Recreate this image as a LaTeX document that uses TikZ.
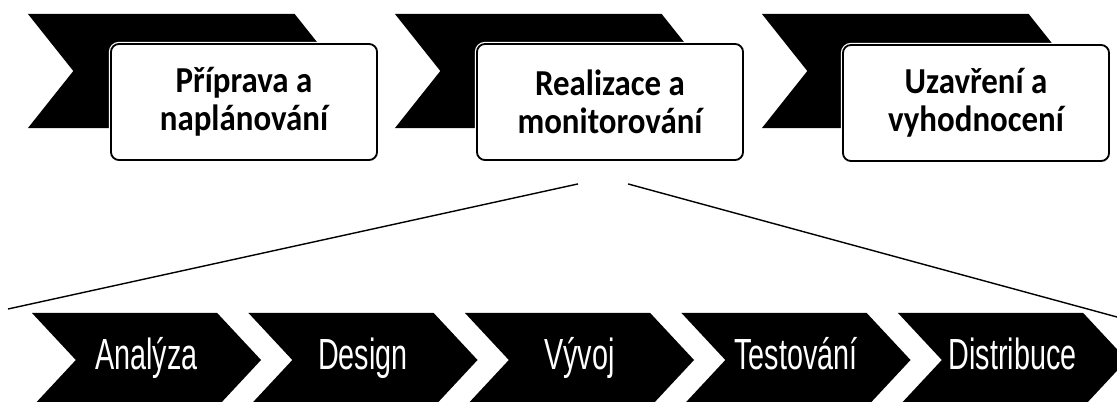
\documentclass[tikz,border=0pt]{standalone}
\usepackage{fontspec}
\usetikzlibrary{shapes.symbols,calc}
\newfontfamily\stagefont[FakeStretch=0.9]{Carlito}
\newfontfamily\taskfont[FakeStretch=0.66]{Liberation Sans}

\tikzset{
  stagearrow/.style={signal, signal from=west, signal to=east,
    signal pointer angle=103, fill=black, inner sep=0pt,
    minimum width=7.8cm, minimum height=2.85cm},
  stagebox/.style={draw, line width=1.3pt, fill=white, rounded corners=0.2cm,
    preaction={draw=white, line width=3pt},
    minimum width=6.65cm, minimum height=2.9cm, align=center,
    font=\stagefont\bfseries\fontsize{26}{27}\selectfont},
  taskarrow/.style={signal, signal from=west, signal to=east,
    signal pointer angle=94, fill=black, inner sep=0pt, text=white,
    text height=21pt, text depth=6.8pt,
    minimum width=5.725cm, minimum height=2.35cm,
    font=\taskfont\fontsize{31}{33}\selectfont},
  fan/.style={line width=1pt}
}

\begin{document}
\begin{tikzpicture}[x=0.025cm,y=-0.025cm]
      \clip (0,0) rectangle (1117,401);

      % top row
      \begin{scope}
        \node[stagearrow] (prepA) at (184,71) {};
        \node[stagebox] (prep) at (244,102) {Příprava a\\naplánování};
      \end{scope}

      \begin{scope}[shift={(367,0)}]
        \node[stagearrow] (realA) at (184,71) {};
        \node[stagebox] (real) at (243,102) {Realizace a\\monitorování};
      \end{scope}

      \begin{scope}[shift={(734,0)}]
        \node[stagearrow] (closeA) at (184,71) {};
        \node[stagebox] (close) at (242,103) {Uzavření a\\vyhodnocení};
      \end{scope}

      % bottom row
      \node[taskarrow] (analysis) at (146.5,360) {Analýza};
      \node[taskarrow] (design) at (363,360) {Design};
      \node[taskarrow] (develop) at (579.5,360) {Vývoj};
      \node[taskarrow] (testing) at (796,360) {Testování};
      \node[taskarrow] (deploy) at (1012.5,360) {Distribuce};

      \coordinate (fanL) at (8,309);
      \coordinate (fanR) at (1117,317);
      \draw[fan] ($(real.south)+(-32,23)$) -- (fanL);
      \draw[fan] ($(real.south)+(18,23)$) -- (fanR);
    \end{tikzpicture}
\end{document}
